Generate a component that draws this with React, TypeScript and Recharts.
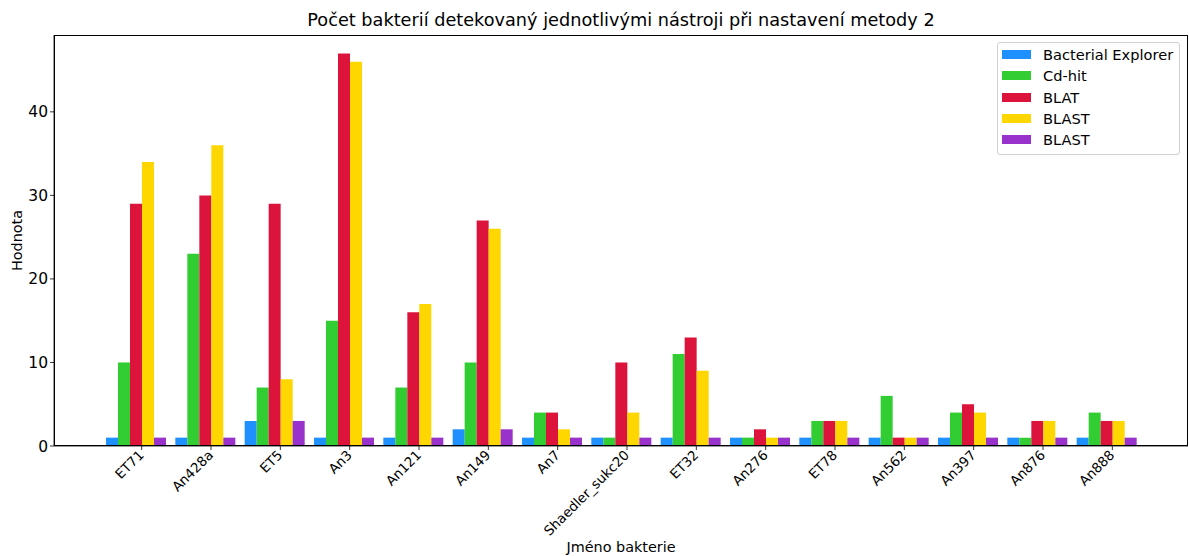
import React from "react"
import { BarChart, Bar, XAxis, YAxis } from "recharts"

const bacteria = [
  "ET71", "An428a", "ET5", "An3", "An121", "An149", "An7", "Shaedler_sukc20",
  "ET32", "An276", "ET78", "An562", "An397", "An876", "An888",
]
const explorer = [1, 1, 3, 1, 1, 2, 1, 1, 1, 1, 1, 1, 1, 1, 1]
const cdhit = [10, 23, 7, 15, 7, 10, 4, 1, 11, 1, 3, 6, 4, 1, 4]
const blat = [29, 30, 29, 47, 16, 27, 4, 10, 13, 2, 3, 1, 5, 3, 3]
const blast = [34, 36, 8, 46, 17, 26, 2, 4, 9, 1, 3, 1, 4, 3, 3]
const blast2 = [1, 1, 3, 1, 1, 2, 1, 1, 1, 1, 1, 1, 1, 1, 1]
const yTicks = [0, 10, 20, 30, 40]

const seriesList = [
  { key: "explorer", name: "Bacterial Explorer", color: "#1e90ff" },
  { key: "cdhit", name: "Cd-hit", color: "#32cd32" },
  { key: "blat", name: "BLAT", color: "#dc143c" },
  { key: "blast", name: "BLAST", color: "#ffd700" },
  { key: "blast2", name: "BLAST", color: "#9932cc" },
]

const data = bacteria.map((name, i) => ({
  name,
  explorer: explorer[i],
  cdhit: cdhit[i],
  blat: blat[i],
  blast: blast[i],
  blast2: blast2[i],
}))

const FONT = "'DejaVu Sans', sans-serif"

function XTick({ x, y, payload }: any) {
  const tx = x + 6
  return (
    <g>
      <line x1={tx} y1={y - 8} x2={tx} y2={y - 4} stroke="#000" strokeWidth={0.8} />
      <text
        x={tx + 3}
        y={y + 2}
        transform={`rotate(-45, ${tx + 3}, ${y + 2})`}
        textAnchor="end"
        fontSize={13.4}
        fontFamily={FONT}
        fill="#000"
      >
        {payload.value}
      </text>
    </g>
  )
}

function LegendBox() {
  return (
    <div
      style={{
        position: "absolute",
        top: 42,
        left: 997,
        border: "1px solid #d0d0d0",
        borderRadius: 3,
        background: "rgba(255,255,255,0.8)",
        padding: "1px 6px 4px 4px",
        fontFamily: FONT,
        fontSize: 14.6,
        color: "#000",
        whiteSpace: "nowrap",
      }}
    >
      {seriesList.map((s, i) => (
        <div key={i} style={{ display: "flex", alignItems: "center", height: 21.3 }}>
          <span style={{ width: 29, height: 9, background: s.color, marginRight: 12, display: "inline-block" }} />
          <span>{s.name}</span>
        </div>
      ))}
    </div>
  )
}

export default function App() {
  return (
    <div style={{ position: "absolute", left: 0, top: 0, width: 1189, height: 556, background: "#fff" }}>
      <div
        style={{
          position: "absolute",
          left: 54,
          width: 1134,
          top: 10,
          textAlign: "center",
          fontFamily: FONT,
          fontSize: 17.7,
          color: "#000",
        }}
      >
        Počet bakterií detekovaný jednotlivými nástroji při nastavení metody 2
      </div>
      <BarChart
        width={1189}
        height={556}
        data={data}
        margin={{ top: 35, right: 1, bottom: 0, left: 0 }}
        barCategoryGap={5}
        barGap={0}
      >
        <XAxis
          dataKey="name"
          interval={0}
          height={110}
          padding={{ left: 47, right: 47 }}
          axisLine={{ stroke: "#000", strokeWidth: 0.8 }}
          tickLine={false}
          tick={<XTick />}
          label={{
            value: "Jméno bakterie",
            position: "insideBottom",
            offset: 4,
            fontSize: 14.4,
            fontFamily: FONT,
            fill: "#000",
          }}
        />
        <YAxis
          width={54}
          domain={[0, 49.2]}
          ticks={yTicks}
          allowDataOverflow
          axisLine={{ stroke: "#000", strokeWidth: 0.8 }}
          tickLine={{ stroke: "#000", strokeWidth: 0.8 }}
          tickSize={4}
          tick={{ fontSize: 15.5, fontFamily: FONT, fill: "#000" }}
          label={{
            value: "Hodnota",
            angle: -90,
            position: "insideLeft",
            offset: 17,
            style: { textAnchor: "middle" },
            fontSize: 14.4,
            fontFamily: FONT,
            fill: "#000",
          }}
        />
        {seriesList.map((s) => (
          <Bar
            key={s.key}
            dataKey={s.key}
            name={s.name}
            fill={s.color}
            isAnimationActive={false}
          />
        ))}
      </BarChart>
      <div
        style={{
          position: "absolute",
          left: 54,
          top: 35,
          width: 1134,
          height: 411,
          boxSizing: "border-box",
          border: "1px solid #000",
          pointerEvents: "none",
        }}
      />
      <LegendBox />
    </div>
  )
}
